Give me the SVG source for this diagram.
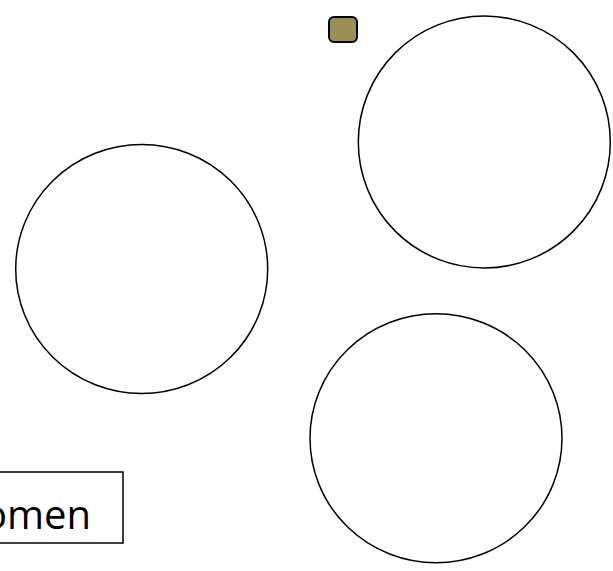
<svg xmlns="http://www.w3.org/2000/svg" width="613" height="571" viewBox="0 0 613 571">
<style>
.c{fill:#fff;stroke:#000;stroke-width:1.5}
.b{fill:#fff;stroke:#000;stroke-width:1.5}
.t{font-family:"Open Sans","Liberation Sans",sans-serif;font-size:40px;fill:#000}
</style>
<rect width="613" height="571" fill="#fff"/>
<g id="marker-box"><rect x="329" y="17" width="28" height="25" rx="5" fill="#9A8F55" stroke="#000" stroke-width="2"/></g>
<g id="circle-top"><ellipse class="c" cx="484.3" cy="142" rx="126" ry="126"/></g>
<g id="circle-left"><ellipse class="c" cx="141.7" cy="269" rx="126" ry="124.5"/></g>
<g id="circle-bottom"><ellipse class="c" cx="436" cy="438.3" rx="126" ry="124.5"/></g>
<g id="label-box"><rect class="b" x="-5" y="472" width="128" height="71"/>
<text class="t" x="91" y="529" text-anchor="end">omen</text></g>
<g id="connectors"/>
</svg>
